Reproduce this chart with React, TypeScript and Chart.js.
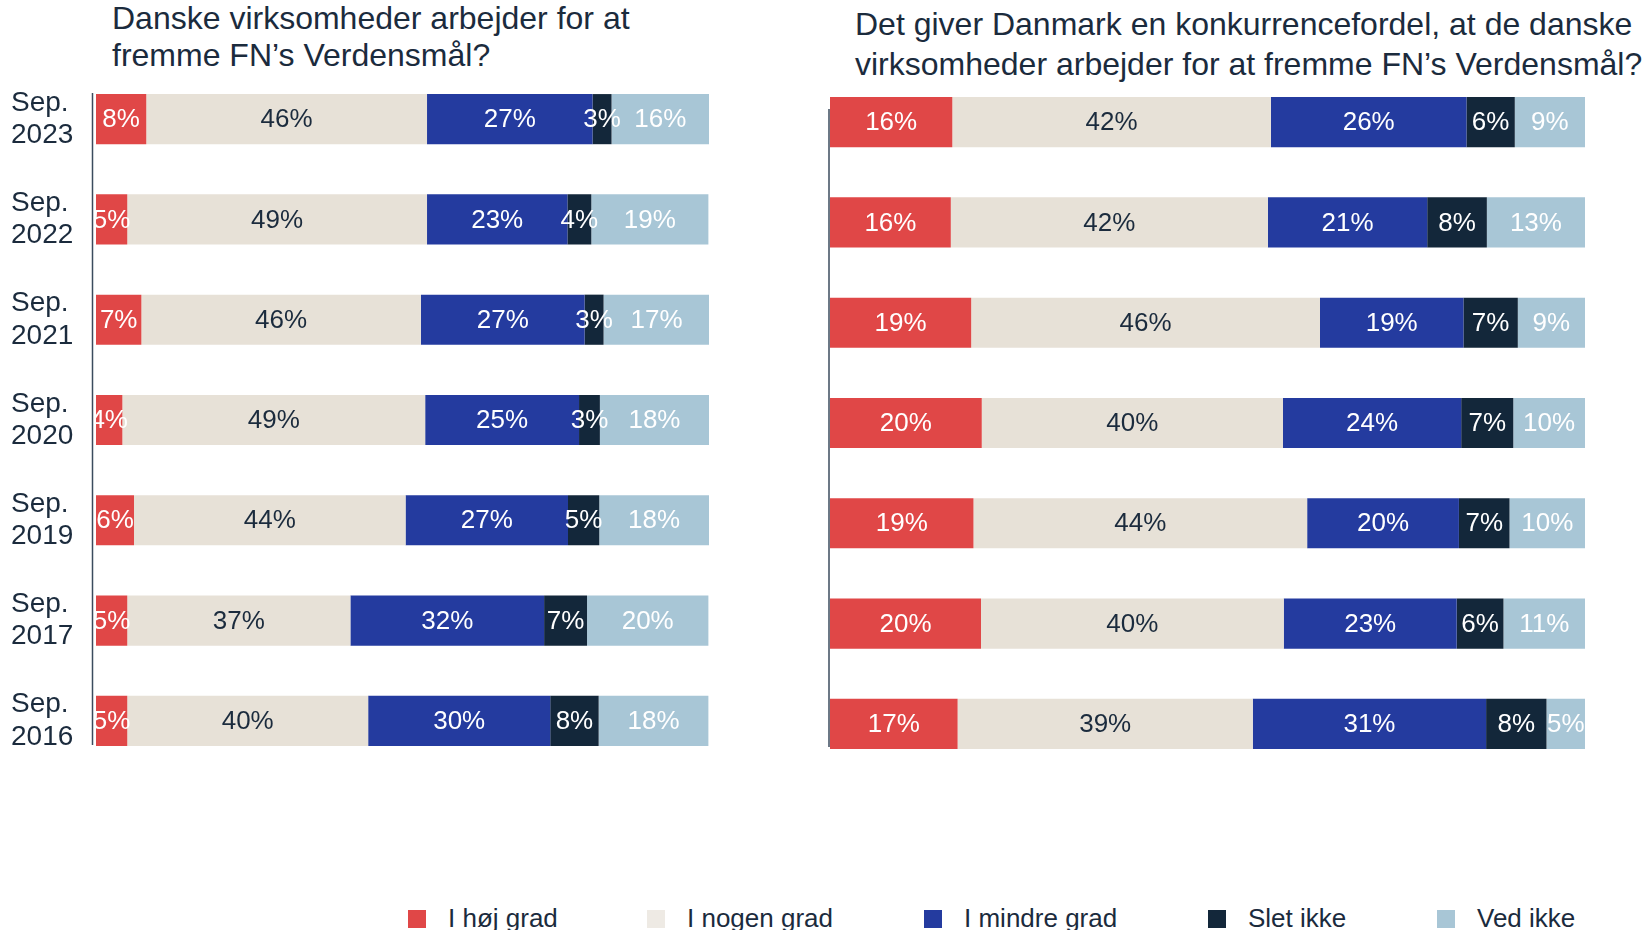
import React, { useEffect, useRef } from 'react';
import { Chart, registerables } from 'chart.js';

Chart.register(...registerables);

// ---------- DATA ----------
const categories: string[][] = [
  ['Sep.', '2023'],
  ['Sep.', '2022'],
  ['Sep.', '2021'],
  ['Sep.', '2020'],
  ['Sep.', '2019'],
  ['Sep.', '2017'],
  ['Sep.', '2016'],
];

const seriesNames = ['I høj grad', 'I nogen grad', 'I mindre grad', 'Slet ikke', 'Ved ikke'];
const seriesColors = ['#E04747', '#E7E1D7', '#243B9F', '#13273A', '#A8C6D6'];
const legendColors = ['#E04747', '#EEEAE4', '#243B9F', '#13273A', '#A8C6D6'];
const labelColors = ['#FFFFFF', '#1B2B3D', '#FFFFFF', '#FFFFFF', '#FFFFFF'];

const leftTitle = ['Danske virksomheder arbejder for at', 'fremme FN’s Verdensmål?'];
const rightTitle = [
  'Det giver Danmark en konkurrencefordel, at de danske',
  'virksomheder arbejder for at fremme FN’s Verdensmål?',
];

// Left chart: estimated shares (bar widths)
const leftHoj = [8.2, 5.1, 7.4, 4.3, 6.2, 5.1, 5.1];
const leftNogen = [45.8, 48.9, 45.6, 49.4, 44.3, 36.4, 39.3];
const leftMindre = [27.0, 22.9, 26.7, 25.1, 26.5, 31.6, 29.7];
const leftSlet = [3.1, 3.9, 3.1, 3.4, 5.1, 7.0, 7.9];
const leftVed = [15.9, 19.1, 17.3, 17.8, 17.9, 19.8, 17.9];
// Left chart: printed labels
const leftHojLbl = [8, 5, 7, 4, 6, 5, 5];
const leftNogenLbl = [46, 49, 46, 49, 44, 37, 40];
const leftMindreLbl = [27, 23, 27, 25, 27, 32, 30];
const leftSletLbl = [3, 4, 3, 3, 5, 7, 8];
const leftVedLbl = [16, 19, 17, 18, 18, 20, 18];

// Right chart: estimated shares (bar widths)
const rightHoj = [16.2, 16.0, 18.7, 20.1, 19.0, 20.0, 16.9];
const rightNogen = [42.2, 42.0, 46.2, 39.9, 44.2, 40.1, 39.1];
const rightMindre = [25.9, 21.1, 19.0, 23.6, 20.1, 22.9, 30.9];
const rightSlet = [6.4, 7.9, 7.2, 6.9, 6.7, 6.2, 8.0];
const rightVed = [9.3, 13.0, 8.9, 9.5, 10.0, 10.8, 5.1];
// Right chart: printed labels
const rightHojLbl = [16, 16, 19, 20, 19, 20, 17];
const rightNogenLbl = [42, 42, 46, 40, 44, 40, 39];
const rightMindreLbl = [26, 21, 19, 24, 20, 23, 31];
const rightSletLbl = [6, 8, 7, 7, 7, 6, 8];
const rightVedLbl = [9, 13, 9, 10, 10, 11, 5];

const FONT = '"Liberation Sans", Arial, Helvetica, sans-serif';
const TEXT = '#1B2B3D';

// ---------- PLUGINS ----------
const barLabels = {
  id: 'barLabels',
  afterDatasetsDraw(chart: any, _args: any, opts: any) {
    const { ctx, chartArea } = chart;
    ctx.save();
    ctx.beginPath();
    ctx.rect(chartArea.left, chartArea.top, chartArea.right - chartArea.left, chartArea.bottom - chartArea.top);
    ctx.clip();
    ctx.font = `26px ${FONT}`;
    ctx.textAlign = 'center';
    ctx.textBaseline = 'middle';
    chart.data.datasets.forEach((_ds: any, i: number) => {
      const meta = chart.getDatasetMeta(i);
      meta.data.forEach((el: any, j: number) => {
        const p = el.getProps(['x', 'base', 'y'], true);
        ctx.fillStyle = opts.colors[i];
        ctx.fillText(opts.labels[i][j] + '%', (p.x + p.base) / 2, p.y + 1);
      });
    });
    ctx.restore();
  },
};

const axisLine = {
  id: 'axisLine',
  afterDatasetsDraw(chart: any, _args: any, opts: any) {
    const { ctx, chartArea } = chart;
    const y = chart.scales.y;
    const meta = chart.getDatasetMeta(0);
    const first: any = meta.data[0];
    const h = first.height / 2;
    const top = y.getPixelForValue(0) - h + opts.topOff;
    const bottom = y.getPixelForValue(meta.data.length - 1) + h + opts.bottomOff;
    const x = chartArea.left + opts.dx;
    ctx.save();
    ctx.strokeStyle = '#3B4B5E';
    ctx.lineWidth = 1.5;
    ctx.beginPath();
    ctx.moveTo(x, top);
    ctx.lineTo(x, bottom);
    ctx.stroke();
    ctx.restore();
  },
};

type BarProps = {
  values: number[][];
  labels: number[][];
  showY: boolean;
  left: number;
  width: number;
  height: number;
  padding: { left: number; right: number; top: number; bottom: number };
  yWidth: number;
  line: { dx: number; topOff: number; bottomOff: number };
};

function StackedBars(props: BarProps) {
  const ref = useRef<HTMLCanvasElement | null>(null);
  useEffect(() => {
    if (!ref.current) return;
    const chart = new Chart(ref.current, {
      type: 'bar',
      data: {
        labels: categories,
        datasets: seriesNames.map((name, i) => ({
          label: name,
          data: props.values[i],
          backgroundColor: seriesColors[i],
          borderWidth: 0,
          barPercentage: 0.5,
          categoryPercentage: 1,
        })),
      },
      options: {
        indexAxis: 'y',
        responsive: false,
        animation: false,
        devicePixelRatio: 1,
        layout: { padding: props.padding },
        scales: {
          x: { stacked: true, min: 0, max: 100, display: false },
          y: {
            stacked: true,
            display: props.showY,
            grid: { display: false },
            border: { display: false },
            afterFit: (scale: any) => {
              scale.width = props.yWidth;
            },
            ticks: {
              autoSkip: false,
              crossAlign: 'far',
              padding: 0,
              color: TEXT,
              font: { family: FONT, size: 28, lineHeight: 1.15 },
            },
          },
        },
        plugins: {
          legend: { display: false },
          tooltip: { enabled: false },
          title: { display: false },
          barLabels: { labels: props.labels, colors: labelColors },
          axisLine: props.line,
        } as any,
      },
      plugins: [barLabels, axisLine],
    } as any);
    return () => chart.destroy();
  }, []);
  return (
    <canvas
      ref={ref}
      width={props.width}
      height={props.height}
      style={{ position: 'absolute', left: props.left, top: 0, width: props.width, height: props.height }}
    />
  );
}

function Title({ lines, left, top, lh }: { lines: string[]; left: number; top: number; lh: number }) {
  return (
    <div style={{ position: 'absolute', left, top, fontSize: 32, lineHeight: lh + 'px', color: TEXT, fontFamily: FONT }}>
      {lines.map((l, i) => (
        <div key={i} style={{ whiteSpace: 'nowrap' }}>{l}</div>
      ))}
    </div>
  );
}

const legendX = [408, 647, 924, 1208, 1437];

export default function App() {
  useEffect(() => {
    document.body.style.margin = '0';
  }, []);
  return (
    <div
      style={{
        position: 'fixed',
        left: 0,
        top: 0,
        width: 1642,
        height: 930,
        overflow: 'hidden',
        background: '#FFFFFF',
        fontFamily: FONT,
      }}
    >
      <Title lines={leftTitle} left={112} top={0} lh={37} />
      <Title lines={rightTitle} left={855} top={4} lh={40} />
      <StackedBars
        values={[leftHoj, leftNogen, leftMindre, leftSlet, leftVed]}
        labels={[leftHojLbl, leftNogenLbl, leftMindreLbl, leftSletLbl, leftVedLbl]}
        showY={true}
        left={0}
        width={730}
        height={820}
        padding={{ left: 11, right: 21, top: 69, bottom: 49 }}
        yWidth={85}
        line={{ dx: -3.5, topOff: -1, bottomOff: -1 }}
      />
      <StackedBars
        values={[rightHoj, rightNogen, rightMindre, rightSlet, rightVed]}
        labels={[rightHojLbl, rightNogenLbl, rightMindreLbl, rightSletLbl, rightVedLbl]}
        showY={false}
        left={740}
        width={902}
        height={800}
        padding={{ left: 90, right: 57, top: 72, bottom: 26 }}
        yWidth={0}
        line={{ dx: -1, topOff: 12, bottomOff: -2 }}
      />
      {seriesNames.map((name, i) => (
        <div key={name}>
          <div
            style={{
              position: 'absolute',
              left: legendX[i],
              top: 910,
              width: 18,
              height: 18,
              background: legendColors[i],
            }}
          />
          <div
            style={{
              position: 'absolute',
              left: legendX[i] + 40,
              top: 905,
              fontSize: 26,
              lineHeight: '26px',
              color: TEXT,
              whiteSpace: 'nowrap',
            }}
          >
            {name}
          </div>
        </div>
      ))}
    </div>
  );
}
